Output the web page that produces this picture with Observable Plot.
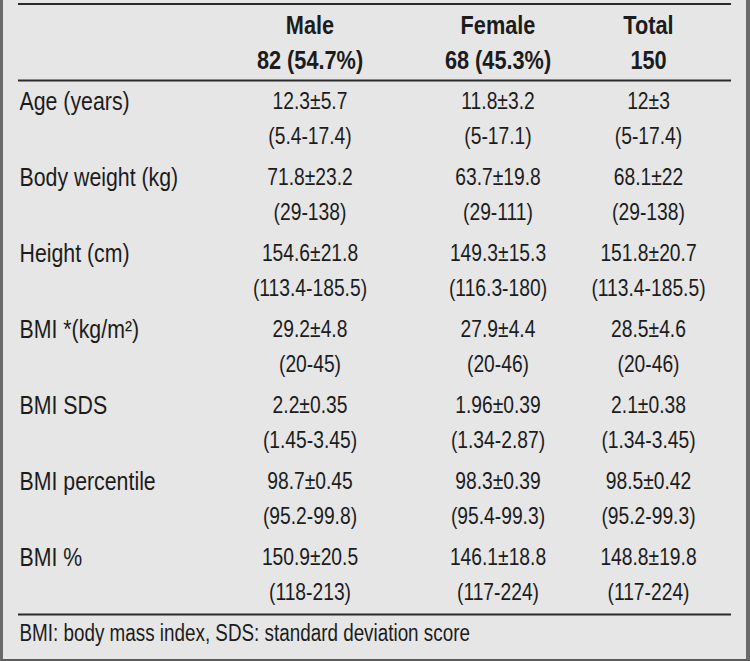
<!DOCTYPE html>
<html><head><meta charset="utf-8">
<script src="https://cdn.jsdelivr.net/npm/d3@7"></script>
<script src="https://cdn.jsdelivr.net/npm/@observablehq/plot@0.6"></script>
<style>
html,body{margin:0;padding:0;background:#e6e6e6;}
#wrap{position:relative;width:750px;height:661px;overflow:hidden;background:#e6e6e6;}
#wrap svg{position:absolute;left:0;top:0;}
#frame{position:absolute;left:0;top:0;width:750px;height:661px;box-sizing:border-box;border-left:3px solid #6a6a6a;border-right:4px solid #6a6a6a;border-bottom:2px solid #5a5a5a;pointer-events:none;}
</style></head><body><div id="wrap"><div id="frame"></div></div>
<script>
const columns = ["Male", "Female", "Total"];
const counts = ["82 (54.7%)", "68 (45.3%)", "150"];
const variables = ["Age (years)", "Body weight (kg)", "Height (cm)", "BMI *(kg/m²)", "BMI SDS", "BMI percentile", "BMI %"];
const maleMean = ["12.3±5.7", "71.8±23.2", "154.6±21.8", "29.2±4.8", "2.2±0.35", "98.7±0.45", "150.9±20.5"];
const maleRange = ["(5.4-17.4)", "(29-138)", "(113.4-185.5)", "(20-45)", "(1.45-3.45)", "(95.2-99.8)", "(118-213)"];
const femaleMean = ["11.8±3.2", "63.7±19.8", "149.3±15.3", "27.9±4.4", "1.96±0.39", "98.3±0.39", "146.1±18.8"];
const femaleRange = ["(5-17.1)", "(29-111)", "(116.3-180)", "(20-46)", "(1.34-2.87)", "(95.4-99.3)", "(117-224)"];
const totalMean = ["12±3", "68.1±22", "151.8±20.7", "28.5±4.6", "2.1±0.38", "98.5±0.42", "148.8±19.8"];
const totalRange = ["(5-17.4)", "(29-138)", "(113.4-185.5)", "(20-46)", "(1.34-3.45)", "(95.2-99.3)", "(117-224)"];
const footnote = "BMI: body mass index, SDS: standard deviation score";

const means = {Male: maleMean, Female: femaleMean, Total: totalMean};
const ranges = {Male: maleRange, Female: femaleRange, Total: totalRange};

const headerData = columns.map((c, i) => ({col: c, title: c, count: counts[i]}));
const cells = variables.flatMap((v, i) => columns.map(c => ({variable: v, col: c, mean: means[c][i], range: ranges[c][i]})));

const FONT = "'Liberation Sans', Arial, sans-serif";
const INK = "#1c1c1c";

const chart = Plot.plot({
  width: 750,
  height: 661,
  marginTop: 0, marginBottom: 0, marginLeft: 18, marginRight: 19,
  style: {background: "transparent", fontFamily: FONT, color: INK},
  x: {type: "ordinal", domain: ["label", ...columns], range: [19, 309.5, 497.5, 648], axis: null},
  y: {type: "point", domain: ["header", ...variables, "note"], range: [24.5, 633], padding: 0, axis: null},
  marks: [
    Plot.ruleY(["header"], {dy: -21.5, stroke: "#2a2a2a", strokeWidth: 2}),
    Plot.ruleY([variables[0]], {dy: -21, stroke: "#2a2a2a", strokeWidth: 2}),
    Plot.ruleY([variables[variables.length - 1]], {dy: 57, stroke: "#2a2a2a", strokeWidth: 2}),
    Plot.text(headerData, {x: "col", y: () => "header", text: "title", fontSize: 26.5, fontWeight: "bold", fill: INK}),
    Plot.text(headerData, {x: "col", y: () => "header", text: "count", dy: 35, fontSize: 26.5, fontWeight: "bold", fill: INK}),
    Plot.text(variables, {x: () => "label", y: d => d, text: d => d, textAnchor: "start", fontSize: 26, fill: INK}),
    Plot.text(cells, {x: "col", y: "variable", text: "mean", fontSize: 23.5, fill: INK}),
    Plot.text(cells, {x: "col", y: "variable", text: "range", dy: 34.5, fontSize: 23.5, fill: INK}),
    Plot.text([footnote], {x: () => "label", y: () => "note", text: d => d, textAnchor: "start", fontSize: 23, fill: INK})
  ]
});
// condense the glyphs horizontally (the reference uses a condensed typeface)
chart.querySelectorAll("text").forEach(t => {
  const tr = t.getAttribute("transform") || "";
  t.setAttribute("transform", tr + " scale(0.82,1)");
});
document.getElementById("wrap").insertBefore(chart, document.getElementById("frame"));
</script>
</body></html>
